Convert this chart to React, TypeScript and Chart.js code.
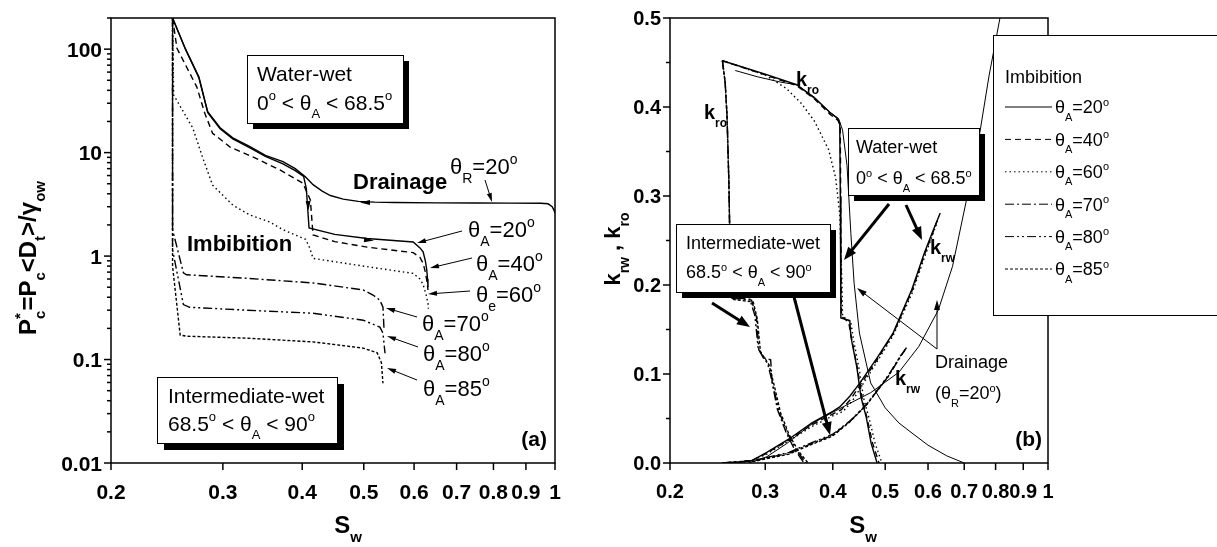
import React, { useEffect, useRef } from 'react';
import { Chart, registerables } from 'chart.js';
Chart.register(...registerables);

const FONT = '"Liberation Sans", Arial, Helvetica, sans-serif';

// ---------------- axis ticks ----------------
const swTickValues = [0.2, 0.3, 0.4, 0.5, 0.6, 0.7, 0.8, 0.9, 1];
const swTickLabels = ['0.2', '0.3', '0.4', '0.5', '0.6', '0.7', '0.8', '0.9', '1'];
const pcTickValues = [0.01, 0.1, 1, 10, 100];
const pcTickLabels = ['0.01', '0.1', '1', '10', '100'];
const krTickValues = [0, 0.1, 0.2, 0.3, 0.4, 0.5];
const krTickLabels = ['0.0', '0.1', '0.2', '0.3', '0.4', '0.5'];
const krMinorTicks = [0.05, 0.15, 0.25, 0.35, 0.45];

// ---------------- panel (a): Pc* vs Sw ----------------
const swPcDrain = [1.0, 0.997, 0.99, 0.975, 0.95, 0.85, 0.75, 0.65, 0.56, 0.52, 0.49, 0.464, 0.443, 0.43, 0.416, 0.405, 0.39, 0.373, 0.35, 0.331, 0.311, 0.297, 0.284, 0.275, 0.262, 0.25];
const pcDrain = [2.6, 2.75, 3.0, 3.2, 3.24, 3.25, 3.26, 3.27, 3.29, 3.32, 3.38, 3.55, 3.85, 4.25, 4.9, 5.8, 7.0, 8.2, 9.4, 11.4, 13.9, 17.4, 24.8, 54, 100, 200];

const swPc20 = [0.25, 0.262, 0.275, 0.284, 0.297, 0.311, 0.331, 0.35, 0.373, 0.39, 0.402, 0.406, 0.41, 0.45, 0.506, 0.598, 0.613, 0.62, 0.625, 0.628, 0.63, 0.631];
const pc20 = [200, 100, 53, 24.3, 17.0, 13.6, 11.1, 9.2, 7.8, 6.7, 5.9, 4.5, 1.87, 1.62, 1.48, 1.37, 1.2, 1.1, 0.9, 0.75, 0.6, 0.5];

const swPc40 = [0.25, 0.254, 0.273, 0.281, 0.289, 0.308, 0.335, 0.369, 0.401, 0.412, 0.416, 0.45, 0.506, 0.598, 0.613, 0.62, 0.625, 0.629, 0.631];
const pc40 = [200, 102, 43, 24, 15.4, 11.3, 9.05, 6.8, 5.07, 3.48, 1.6, 1.38, 1.22, 1.08, 0.97, 0.85, 0.7, 0.56, 0.47];

const swPc60 = [0.25, 0.251, 0.269, 0.279, 0.289, 0.311, 0.331, 0.356, 0.373, 0.405, 0.411, 0.416, 0.506, 0.598, 0.613, 0.62, 0.627, 0.631, 0.632];
const pc60 = [200, 36, 17.3, 8.85, 4.85, 3.11, 2.49, 2.13, 1.8, 1.45, 1.2, 0.95, 0.79, 0.68, 0.6, 0.53, 0.42, 0.35, 0.31];

const swPc70 = [0.25, 0.25, 0.26, 0.263, 0.327, 0.416, 0.499, 0.517, 0.53, 0.536, 0.538];
const pc70 = [200, 1.8, 0.69, 0.66, 0.61, 0.55, 0.47, 0.42, 0.375, 0.32, 0.2];

const swPc80 = [0.25, 0.25, 0.26, 0.266, 0.327, 0.416, 0.499, 0.53, 0.536, 0.54];
const pc80 = [200, 1.15, 0.34, 0.32, 0.3, 0.28, 0.24, 0.206, 0.18, 0.115];

const swPc85 = [0.25, 0.25, 0.257, 0.263, 0.327, 0.416, 0.499, 0.525, 0.533, 0.536];
const pc85 = [200, 0.8, 0.172, 0.168, 0.161, 0.148, 0.129, 0.116, 0.093, 0.059];

// ---------------- panel (b): krw, kro vs Sw ----------------
const swKro20 = [0.25, 0.3, 0.343, 0.37, 0.395, 0.408, 0.412, 0.413, 0.414, 0.43, 0.432, 0.443, 0.451, 0.461, 0.471, 0.483];
const kro20 = [0.452, 0.437, 0.425, 0.41, 0.394, 0.387, 0.382, 0.3, 0.163, 0.16, 0.142, 0.108, 0.074, 0.052, 0.022, 0.0];
const swKro40 = [0.25, 0.3, 0.343, 0.37, 0.395, 0.409, 0.413, 0.414, 0.415, 0.428, 0.434, 0.445, 0.453, 0.463, 0.474, 0.487];
const kro40 = [0.452, 0.436, 0.424, 0.409, 0.392, 0.385, 0.378, 0.25, 0.165, 0.158, 0.138, 0.104, 0.073, 0.05, 0.022, 0.0];
const swKro60 = [0.25, 0.3, 0.328, 0.35, 0.37, 0.393, 0.405, 0.412, 0.416, 0.417, 0.432, 0.437, 0.448, 0.456, 0.467, 0.479, 0.493];
const kro60 = [0.452, 0.436, 0.421, 0.404, 0.384, 0.352, 0.32, 0.28, 0.2, 0.165, 0.158, 0.138, 0.104, 0.073, 0.05, 0.022, 0.0];

const swKro70 = [0.25, 0.253, 0.255, 0.257, 0.258, 0.259, 0.26, 0.283, 0.289, 0.292, 0.298, 0.307, 0.309, 0.316, 0.328, 0.34, 0.354];
const kro70 = [0.452, 0.427, 0.389, 0.315, 0.254, 0.202, 0.185, 0.183, 0.164, 0.127, 0.118, 0.116, 0.09, 0.06, 0.034, 0.015, 0.0];
const swKro80 = [0.25, 0.253, 0.255, 0.257, 0.258, 0.259, 0.26, 0.281, 0.287, 0.291, 0.297, 0.303, 0.31, 0.318, 0.33, 0.343, 0.357];
const kro80 = [0.452, 0.427, 0.389, 0.315, 0.254, 0.202, 0.186, 0.184, 0.166, 0.13, 0.119, 0.112, 0.088, 0.058, 0.033, 0.014, 0.0];
const swKro85 = [0.25, 0.253, 0.255, 0.257, 0.258, 0.259, 0.26, 0.285, 0.29, 0.294, 0.3, 0.305, 0.312, 0.32, 0.332, 0.345, 0.36];
const kro85 = [0.452, 0.427, 0.389, 0.315, 0.254, 0.202, 0.184, 0.181, 0.162, 0.125, 0.117, 0.11, 0.086, 0.057, 0.032, 0.014, 0.0];

const swKrw20 = [0.25, 0.27, 0.284, 0.302, 0.332, 0.366, 0.4, 0.412, 0.43, 0.449, 0.483, 0.517, 0.56, 0.59, 0.61, 0.632];
const krw20 = [0.0, 0.001, 0.003, 0.012, 0.027, 0.045, 0.058, 0.063, 0.075, 0.09, 0.118, 0.146, 0.195, 0.235, 0.258, 0.281];
const swKrw40 = [0.25, 0.27, 0.284, 0.302, 0.332, 0.366, 0.4, 0.415, 0.432, 0.45, 0.483, 0.517, 0.56, 0.59, 0.61, 0.628];
const krw40 = [0.0, 0.001, 0.003, 0.011, 0.026, 0.043, 0.055, 0.06, 0.072, 0.088, 0.116, 0.145, 0.193, 0.233, 0.256, 0.277];
const swKrw60 = [0.25, 0.27, 0.284, 0.302, 0.332, 0.366, 0.4, 0.418, 0.435, 0.452, 0.483, 0.517, 0.56, 0.59, 0.61, 0.625];
const krw60 = [0.0, 0.001, 0.003, 0.01, 0.025, 0.041, 0.053, 0.058, 0.07, 0.086, 0.114, 0.143, 0.19, 0.23, 0.254, 0.272];

const swKrw70 = [0.25, 0.287, 0.332, 0.366, 0.399, 0.429, 0.461, 0.506, 0.537, 0.548];
const krw70 = [0.0, 0.003, 0.011, 0.022, 0.031, 0.046, 0.065, 0.097, 0.122, 0.13];
const swKrw80 = [0.25, 0.287, 0.332, 0.366, 0.399, 0.43, 0.462, 0.506, 0.535, 0.545];
const krw80 = [0.0, 0.003, 0.012, 0.023, 0.032, 0.047, 0.066, 0.098, 0.121, 0.128];
const swKrw85 = [0.25, 0.287, 0.332, 0.366, 0.399, 0.428, 0.46, 0.505, 0.533, 0.543];
const krw85 = [0.0, 0.002, 0.01, 0.021, 0.03, 0.045, 0.064, 0.096, 0.12, 0.126];

const swKroDrain = [0.264, 0.29, 0.32, 0.343, 0.37, 0.395, 0.41, 0.417, 0.425, 0.432, 0.438, 0.448, 0.47, 0.5, 0.53, 0.565, 0.6, 0.65, 0.7];
const kroDrain = [0.441, 0.434, 0.428, 0.425, 0.411, 0.394, 0.387, 0.374, 0.334, 0.258, 0.202, 0.146, 0.09, 0.062, 0.045, 0.032, 0.02, 0.008, 0.0];
const swKrwDrain = [0.28, 0.302, 0.329, 0.368, 0.4, 0.43, 0.47, 0.53, 0.577, 0.627, 0.666, 0.707, 0.748, 0.778, 0.815];
const krwDrain = [0.0, 0.007, 0.022, 0.045, 0.057, 0.067, 0.079, 0.102, 0.131, 0.172, 0.221, 0.296, 0.371, 0.435, 0.5];

// legend entries
const legendLabels = ['θ_{A}=20^{o}', 'θ_{A}=40^{o}', 'θ_{A}=60^{o}', 'θ_{A}=70^{o}', 'θ_{A}=80^{o}', 'θ_{A}=85^{o}'];
const DASHES: number[][] = [[], [6, 4], [1.5, 3], [9, 3, 2, 3], [9, 3, 2, 3, 2, 3], [3, 2]];

// ---------------- helpers ----------------
type Seg = { t: string; k: number };
function parseRich(s: string): Seg[] {
  const out: Seg[] = [];
  let buf = '';
  let i = 0;
  while (i < s.length) {
    const c = s[i];
    if ((c === '_' || c === '^') && s[i + 1] === '{') {
      if (buf) { out.push({ t: buf, k: 0 }); buf = ''; }
      const end = s.indexOf('}', i + 2);
      out.push({ t: s.slice(i + 2, end), k: c === '_' ? 1 : 2 });
      i = end + 1;
    } else { buf += c; i++; }
  }
  if (buf) out.push({ t: buf, k: 0 });
  return out;
}

function drawRich(ctx: any, s: string, x: number, y: number, size: number, weight = 'normal', align = 'left') {
  const segs = parseRich(s);
  const small = Math.round(size * 0.62);
  const items: any[] = [];
  let cx = 0;
  for (let j = 0; j < segs.length; j++) {
    const g = segs[j];
    if (g.k === 0) {
      ctx.font = `${weight} ${size}px ${FONT}`;
      items.push({ t: g.t, x: cx, sz: size, dy: 0 });
      cx += ctx.measureText(g.t).width;
    } else {
      ctx.font = `${weight} ${small}px ${FONT}`;
      const w = ctx.measureText(g.t).width;
      const dy = g.k === 1 ? size * 0.4 : -size * 0.44;
      items.push({ t: g.t, x: cx, sz: small, dy });
      let adv = w;
      if (g.k === 2 && segs[j + 1] && segs[j + 1].k === 1) {
        const g2 = segs[j + 1];
        const w2 = ctx.measureText(g2.t).width;
        items.push({ t: g2.t, x: cx, sz: small, dy: size * 0.4 });
        adv = Math.max(w, w2);
        j++;
      }
      cx += adv;
    }
  }
  const x0 = align === 'left' ? x : align === 'center' ? x - cx / 2 : x - cx;
  const base = y + size * 0.36;
  ctx.textAlign = 'left';
  ctx.textBaseline = 'alphabetic';
  for (const it of items) {
    ctx.font = `${weight} ${it.sz}px ${FONT}`;
    ctx.fillText(it.t, x0 + it.x, base + it.dy);
  }
  return cx;
}

function seg(ctx: any, x1: number, y1: number, x2: number, y2: number) {
  ctx.beginPath(); ctx.moveTo(x1, y1); ctx.lineTo(x2, y2); ctx.stroke();
}

function head(ctx: any, x: number, y: number, ang: number, hl: number, hw: number) {
  const bx = x - hl * Math.cos(ang), by = y - hl * Math.sin(ang);
  ctx.beginPath();
  ctx.moveTo(x, y);
  ctx.lineTo(bx + (hw / 2) * Math.sin(ang), by - (hw / 2) * Math.cos(ang));
  ctx.lineTo(bx - (hw / 2) * Math.sin(ang), by + (hw / 2) * Math.cos(ang));
  ctx.closePath();
  ctx.fill();
}

function arrow(ctx: any, x1: number, y1: number, x2: number, y2: number, lw: number, hl: number, hw: number) {
  const ang = Math.atan2(y2 - y1, x2 - x1);
  ctx.lineWidth = lw;
  seg(ctx, x1, y1, x2 - hl * 0.8 * Math.cos(ang), y2 - hl * 0.8 * Math.sin(ang));
  head(ctx, x2, y2, ang, hl, hw);
}

function shadowBox(ctx: any, x1: number, y1: number, x2: number, y2: number, off: number) {
  ctx.fillStyle = '#000';
  ctx.fillRect(x1 + off, y1 + off, x2 - x1, y2 - y1);
  ctx.fillStyle = '#fff';
  ctx.fillRect(x1, y1, x2 - x1, y2 - y1);
  ctx.strokeStyle = '#000';
  ctx.lineWidth = 1;
  ctx.strokeRect(x1 + 0.5, y1 + 0.5, x2 - x1, y2 - y1);
  ctx.fillStyle = '#000';
}

const pts = (xs: number[], ys: number[]) => xs.map((x, i) => ({ x, y: ys[i] }));
const line = (xs: number[], ys: number[], dash: number[], width = 1.4) => ({
  data: pts(xs, ys),
  borderColor: '#000',
  borderWidth: width,
  borderDash: dash,
  pointRadius: 0,
  fill: false,
  tension: 0,
  showLine: true,
});

// ---------------- decorations ----------------
const decorA = {
  id: 'decorA',
  afterDraw(chart: any) {
    const { ctx, chartArea: a, scales } = chart;
    const xs = scales.x, ys = scales.y;
    ctx.save();
    ctx.strokeStyle = '#000';
    ctx.fillStyle = '#000';
    ctx.lineWidth = 1.5;
    ctx.strokeRect(a.left, a.top, a.right - a.left, a.bottom - a.top);
    swTickValues.forEach((v, i) => {
      const px = xs.getPixelForValue(v);
      seg(ctx, px, a.bottom, px, a.bottom + 7);
      drawRich(ctx, swTickLabels[i], px, a.bottom + 28, 21, 'bold', 'center');
    });
    pcTickValues.forEach((v, i) => {
      const py = ys.getPixelForValue(v);
      seg(ctx, a.left - 7, py, a.left, py);
      drawRich(ctx, pcTickLabels[i], a.left - 9, py, 21, 'bold', 'right');
      for (let m = 2; m <= 9; m++) {
        const mv = v * m;
        if (mv > 200.001) break;
        const my = ys.getPixelForValue(mv);
        seg(ctx, a.left - 4, my, a.left, my);
      }
    });
    drawRich(ctx, 'S_{w}', 348, 524, 24, 'bold', 'center');
    ctx.save();
    ctx.translate(27, 258);
    ctx.rotate(-Math.PI / 2);
    drawRich(ctx, 'P^{*}_{c}=P_{c}<D_{t}>/γ_{ow}', 0, 0, 24, 'bold', 'center');
    ctx.restore();

    // boxes
    shadowBox(ctx, 247, 55, 403, 123, 6);
    drawRich(ctx, 'Water-wet', 257, 73, 21);
    drawRich(ctx, '0^{o} < θ_{A} < 68.5^{o}', 257, 102, 21);
    shadowBox(ctx, 157, 377, 337, 443, 7);
    drawRich(ctx, 'Intermediate-wet', 168, 395, 21);
    drawRich(ctx, '68.5^{o} < θ_{A} < 90^{o}', 168, 423, 21);

    // labels
    drawRich(ctx, 'Drainage', 353, 181, 22, 'bold');
    drawRich(ctx, 'θ_{R}=20^{o}', 450, 166, 22);
    drawRich(ctx, 'Imbibition', 187, 243, 22, 'bold');
    drawRich(ctx, '(a)', 547, 438, 21, 'bold', 'right');
    const thLabels = [
      ['θ_{A}=20^{o}', 468, 229], ['θ_{A}=40^{o}', 476, 263], ['θ_{e}=60^{o}', 476, 294],
      ['θ_{A}=70^{o}', 422, 323], ['θ_{A}=80^{o}', 423, 353], ['θ_{A}=85^{o}', 423, 388],
    ];
    thLabels.forEach((l: any) => drawRich(ctx, l[0], l[1], l[2], 22));

    // arrows
    ctx.lineWidth = 1;
    arrow(ctx, 462, 231, 417, 243, 1, 9, 5);
    arrow(ctx, 472, 258, 430, 268, 1, 9, 5);
    arrow(ctx, 470, 291, 428, 294, 1, 9, 5);
    arrow(ctx, 417, 317, 386, 308, 1, 9, 5);
    arrow(ctx, 418, 347, 387, 336, 1, 9, 5);
    arrow(ctx, 417, 380, 387, 368, 1, 9, 5);
    arrow(ctx, 485, 180, 492, 202, 1, 9, 5);
    head(ctx, 360, 202.5, Math.PI, 10, 5);
    head(ctx, 374, 240.5, 0.08, 10, 5);
    head(ctx, 308.5, 210, Math.PI / 2 - 0.05, 9, 5);
    ctx.restore();
  },
};

const decorB = {
  id: 'decorB',
  afterDraw(chart: any) {
    const { ctx, chartArea: a, scales } = chart;
    const xs = scales.x, ys = scales.y;
    ctx.save();
    ctx.strokeStyle = '#000';
    ctx.fillStyle = '#000';
    ctx.lineWidth = 1.5;
    ctx.strokeRect(a.left, a.top, a.right - a.left, a.bottom - a.top);
    swTickValues.forEach((v, i) => {
      const px = xs.getPixelForValue(v);
      seg(ctx, px, a.bottom, px, a.bottom + 7);
      drawRich(ctx, swTickLabels[i], px, a.bottom + 28, 20, 'bold', 'center');
    });
    krTickValues.forEach((v, i) => {
      const py = ys.getPixelForValue(v);
      seg(ctx, a.left - 7, py, a.left, py);
      drawRich(ctx, krTickLabels[i], a.left - 9, py, 20, 'bold', 'right');
    });
    krMinorTicks.forEach((v) => {
      const py = ys.getPixelForValue(v);
      seg(ctx, a.left - 4, py, a.left, py);
    });
    drawRich(ctx, 'S_{w}', 263, 524, 24, 'bold', 'center');
    ctx.save();
    ctx.translate(12, 249);
    ctx.rotate(-Math.PI / 2);
    drawRich(ctx, 'k_{rw} , k_{ro}', 0, 0, 22, 'bold', 'center');
    ctx.restore();

    // page coordinates from here
    ctx.translate(-600, 0);
    shadowBox(ctx, 848, 128, 979, 195, 6);
    drawRich(ctx, 'Water-wet', 856, 147, 18);
    drawRich(ctx, '0^{o} < θ_{A} < 68.5^{o}', 856, 178, 18);
    shadowBox(ctx, 676, 224, 830, 292, 6);
    drawRich(ctx, 'Intermediate-wet', 686, 243, 18);
    drawRich(ctx, '68.5^{o} < θ_{A} < 90^{o}', 686, 272, 18);

    drawRich(ctx, 'k_{ro}', 704, 112, 20, 'bold');
    drawRich(ctx, 'k_{ro}', 796, 79, 20, 'bold');
    drawRich(ctx, 'k_{rw}', 930, 247, 20, 'bold');
    drawRich(ctx, 'k_{rw}', 895, 378, 20, 'bold');
    drawRich(ctx, 'Drainage', 935, 362, 18);
    drawRich(ctx, '(θ_{R}=20^{o})', 935, 393, 18);
    drawRich(ctx, '(b)', 1042, 438, 21, 'bold', 'right');

    arrow(ctx, 937, 349, 857, 288, 1, 10, 6);
    arrow(ctx, 937, 349, 937, 300, 1, 10, 6);
    arrow(ctx, 889, 204, 844, 260, 3, 13, 10);
    arrow(ctx, 906, 205, 922, 240, 3, 13, 10);
    arrow(ctx, 712, 303, 750, 327, 3, 13, 10);
    arrow(ctx, 793, 293, 830, 435, 3, 13, 10);

    // legend
    ctx.fillStyle = '#fff';
    ctx.fillRect(993, 35, 240, 280);
    ctx.strokeStyle = '#000';
    ctx.lineWidth = 1;
    ctx.strokeRect(993.5, 35.5, 240, 280);
    ctx.fillStyle = '#000';
    drawRich(ctx, 'Imbibition', 1005, 77, 18);
    legendLabels.forEach((lab, i) => {
      const yy = 107 + i * 32.4;
      ctx.save();
      ctx.setLineDash(DASHES[i]);
      ctx.lineWidth = 1;
      seg(ctx, 1005, yy, 1052, yy);
      ctx.restore();
      drawRich(ctx, lab, 1055, yy, 18);
    });
    ctx.restore();
  },
};

const commonOpts = (pad: any, yScale: any) => ({
  responsive: false,
  maintainAspectRatio: false,
  animation: false,
  events: [],
  layout: { padding: pad },
  scales: {
    x: { type: 'logarithmic', min: 0.2, max: 1, display: false },
    y: yScale,
  },
  plugins: { legend: { display: false }, tooltip: { enabled: false } },
});

export default function App() {
  const refA = useRef<HTMLCanvasElement>(null);
  const refB = useRef<HTMLCanvasElement>(null);
  useEffect(() => {
    const chartA = new Chart(refA.current as any, {
      type: 'line',
      data: {
        datasets: [
          line(swPcDrain, pcDrain, DASHES[0]),
          line(swPc20, pc20, DASHES[0]),
          line(swPc40, pc40, DASHES[1]),
          line(swPc60, pc60, DASHES[2]),
          line(swPc70, pc70, DASHES[3]),
          line(swPc80, pc80, DASHES[4]),
          line(swPc85, pc85, DASHES[5]),
        ],
      },
      options: commonOpts({ left: 111, right: 45, top: 18, bottom: 84 }, { type: 'logarithmic', min: 0.01, max: 200, display: false }) as any,
      plugins: [decorA],
    } as any);
    const chartB = new Chart(refB.current as any, {
      type: 'line',
      data: {
        datasets: [
          line(swKroDrain, kroDrain, [], 1),
          line(swKrwDrain, krwDrain, [], 1),
          line(swKro20, kro20, DASHES[0]),
          line(swKro40, kro40, DASHES[1]),
          line(swKro60, kro60, DASHES[2]),
          line(swKro70, kro70, DASHES[3]),
          line(swKro80, kro80, DASHES[4]),
          line(swKro85, kro85, DASHES[5]),
          line(swKrw20, krw20, DASHES[0]),
          line(swKrw40, krw40, DASHES[1]),
          line(swKrw60, krw60, DASHES[2]),
          line(swKrw70, krw70, DASHES[3]),
          line(swKrw80, krw80, DASHES[4]),
          line(swKrw85, krw85, DASHES[5]),
        ],
      },
      options: commonOpts({ left: 70, right: 169, top: 18, bottom: 84 }, { type: 'linear', min: 0, max: 0.5, display: false }) as any,
      plugins: [decorB],
    } as any);
    return () => { chartA.destroy(); chartB.destroy(); };
  }, []);
  return (
    <div style={{ position: 'absolute', left: 0, top: 0, width: 1217, height: 547, background: '#fff', overflow: 'hidden' }}>
      <canvas ref={refA} width={600} height={547} style={{ position: 'absolute', left: 0, top: 0, width: 600, height: 547 }} />
      <canvas ref={refB} width={617} height={547} style={{ position: 'absolute', left: 600, top: 0, width: 617, height: 547 }} />
    </div>
  );
}
